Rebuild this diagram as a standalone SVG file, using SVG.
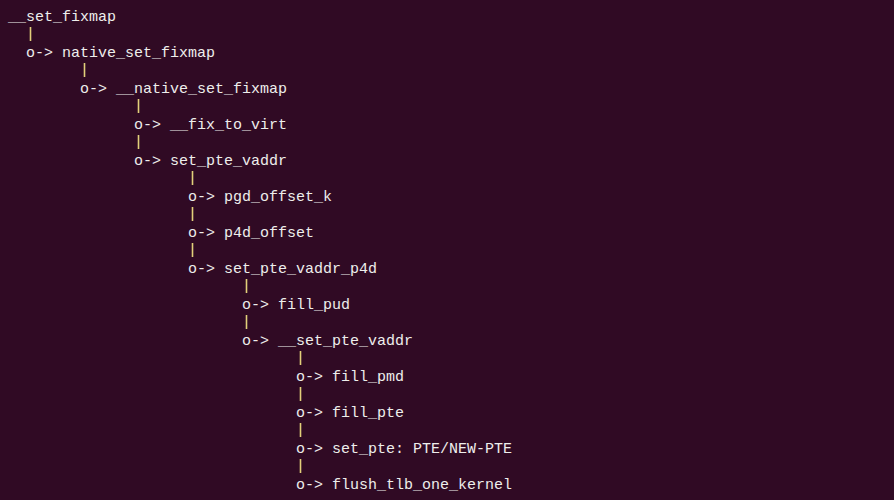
<svg xmlns="http://www.w3.org/2000/svg" width="894" height="500" viewBox="0 0 894 500">
<style>
.t{font-family:"Liberation Mono","DejaVu Sans Mono",monospace;font-size:15px;fill:#eeeeec;white-space:pre}
.p{stroke:#e2cf7a;stroke-width:1.6}
</style>
<rect width="894" height="500" fill="#300a24"/>
<g id="connectors">
<line class="p" x1="30.5" y1="27" x2="30.5" y2="41"/>
<line class="p" x1="84.5" y1="63" x2="84.5" y2="77"/>
<line class="p" x1="138.5" y1="99" x2="138.5" y2="113"/>
<line class="p" x1="138.5" y1="135" x2="138.5" y2="149"/>
<line class="p" x1="192.5" y1="171" x2="192.5" y2="185"/>
<line class="p" x1="192.5" y1="207" x2="192.5" y2="221"/>
<line class="p" x1="192.5" y1="243" x2="192.5" y2="257"/>
<line class="p" x1="246.5" y1="279" x2="246.5" y2="293"/>
<line class="p" x1="246.5" y1="315" x2="246.5" y2="329"/>
<line class="p" x1="300.5" y1="351" x2="300.5" y2="365"/>
<line class="p" x1="300.5" y1="387" x2="300.5" y2="401"/>
<line class="p" x1="300.5" y1="423" x2="300.5" y2="437"/>
<line class="p" x1="300.5" y1="459" x2="300.5" y2="473"/>
</g>
<g id="set_fixmap"><text class="t" x="8" y="21">__set_fixmap</text></g>
<g id="native_set_fixmap"><text class="t" x="26" y="57">o-&gt; native_set_fixmap</text></g>
<g id="__native_set_fixmap"><text class="t" x="80" y="93">o-&gt; __native_set_fixmap</text></g>
<g id="fix_to_virt"><text class="t" x="134" y="129">o-&gt; __fix_to_virt</text></g>
<g id="set_pte_vaddr"><text class="t" x="134" y="165">o-&gt; set_pte_vaddr</text></g>
<g id="pgd_offset_k"><text class="t" x="188" y="201">o-&gt; pgd_offset_k</text></g>
<g id="p4d_offset"><text class="t" x="188" y="237">o-&gt; p4d_offset</text></g>
<g id="set_pte_vaddr_p4d"><text class="t" x="188" y="273">o-&gt; set_pte_vaddr_p4d</text></g>
<g id="fill_pud"><text class="t" x="242" y="309">o-&gt; fill_pud</text></g>
<g id="__set_pte_vaddr"><text class="t" x="242" y="345">o-&gt; __set_pte_vaddr</text></g>
<g id="fill_pmd"><text class="t" x="296" y="381">o-&gt; fill_pmd</text></g>
<g id="fill_pte"><text class="t" x="296" y="417">o-&gt; fill_pte</text></g>
<g id="set_pte"><text class="t" x="296" y="453">o-&gt; set_pte: PTE/NEW-PTE</text></g>
<g id="flush_tlb_one_kernel"><text class="t" x="296" y="489">o-&gt; flush_tlb_one_kernel</text></g>
</svg>
